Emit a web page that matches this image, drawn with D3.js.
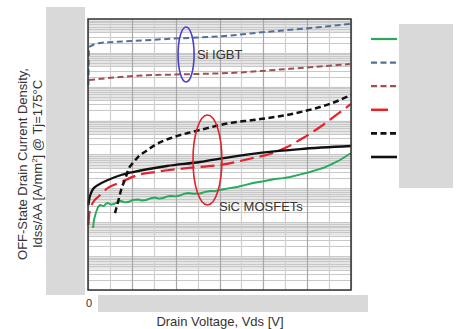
<!DOCTYPE html>
<html>
<head>
<meta charset="utf-8">
<title>Idss vs Vds</title>
<script src="https://cdn.jsdelivr.net/npm/d3@7"></script>
<style>
  body { margin: 0; background: #fff; }
  text { font-family: "Liberation Sans", Arial, sans-serif; fill: #333; }
</style>
</head>
<body>
<svg id="chart" width="457" height="329"></svg>
<script>
// values: drain voltage [V] and off-state current density [A/mm2]
var igbtBlueV = [2, 5, 55, 205, 360, 648, 808, 967, 1195];
var igbtBlueJ = [0.0113, 0.149, 0.196, 0.224, 0.257, 0.326, 0.413, 0.507, 0.712];

var igbtMaroonV = [5, 146, 205, 402, 648, 922, 1195];
var igbtMaroonJ = [0.0158, 0.0194, 0.0208, 0.0230, 0.0255, 0.0340, 0.0470];

var sicGreenV = [23, 27, 37, 46, 55, 64, 73, 82, 91, 105, 119, 135, 151, 167, 183, 205, 228, 246, 265, 285, 306, 324, 342, 360, 379, 400, 420, 438, 456, 480, 511, 535, 557, 580, 602, 640, 680, 715, 753, 800, 853, 890, 922, 970, 1013, 1040, 1072, 1110, 1150, 1200];
var sicGreenJ = [6.76e-7, 1.16e-6, 2.01e-6, 2.82e-6, 3.23e-6, 3.10e-6, 3.02e-6, 3.55e-6, 3.70e-6, 3.30e-6, 3.46e-6, 4.05e-6, 4.24e-6, 3.85e-6, 3.96e-6, 4.55e-6, 4.70e-6, 4.40e-6, 4.54e-6, 5.10e-6, 5.38e-6, 5.00e-6, 5.20e-6, 5.75e-6, 5.96e-6, 5.80e-6, 6.17e-6, 6.90e-6, 7.30e-6, 6.95e-6, 7.06e-6, 7.90e-6, 8.37e-6, 8.30e-6, 8.95e-6, 1.00e-5, 1.10e-5, 1.25e-5, 1.44e-5, 1.62e-5, 1.89e-5, 2.00e-5, 2.17e-5, 2.60e-5, 3.04e-5, 3.45e-5, 3.99e-5, 5.10e-5, 6.89e-5, 1.11e-4];

var sicRedV = [2, 5, 14, 27, 46, 91, 151, 228, 306, 456, 602, 753, 830, 908, 981, 1059, 1127, 1200];
var sicRedJ = [8.30e-7, 1.64e-6, 2.82e-6, 4.24e-6, 5.56e-6, 1.03e-5, 1.54e-5, 2.48e-5, 3.04e-5, 3.99e-5, 4.90e-5, 7.88e-5, 1.04e-4, 1.66e-4, 3.07e-4, 6.48e-4, 1.37e-3, 3.10e-3];

var sicBlackDashV = [123, 137, 151, 173, 183, 205, 228, 265, 306, 379, 456, 511, 648, 753, 908, 990, 1059, 1127, 1200];
var sicBlackDashJ = [1.87e-6, 3.96e-6, 8.95e-6, 2.17e-5, 3.48e-5, 5.61e-5, 8.43e-5, 1.27e-4, 1.91e-4, 3.07e-4, 4.31e-4, 5.29e-4, 8.51e-4, 1.04e-3, 1.47e-3, 1.92e-3, 2.52e-3, 3.55e-3, 5.71e-3];

var sicBlackV = [2, 5, 14, 27, 46, 91, 151, 205, 360, 511, 648, 785, 967, 1200];
var sicBlackJ = [3.23e-6, 4.54e-6, 7.30e-6, 1.03e-5, 1.26e-5, 1.77e-5, 2.48e-5, 3.04e-5, 4.58e-5, 6.01e-5, 8.43e-5, 1.11e-4, 1.45e-4, 1.78e-4];

var xTicks = d3.range(0, 1201, 100);
var yDecades = d3.range(-8, 0);   // 1e-8 ... 1

// annotation groups: [V0, V1] x [J low, J high] for the ellipses
var annoNames = ["Si IGBT", "SiC MOSFETs"];
var annoBoxV = [[411, 484], [479, 611]];
var annoBoxJ = [[0.0138, 0.58], [3.23e-6, 1.47e-3]];
var annoTextV = [497, 598];
var annoTextJ = [0.066, 2.15e-6];

var svg = d3.select("#chart");
var width = 457, height = 329;
var margin = {left: 88, right: 106, top: 19, bottom: 39};

var x = d3.scaleLinear().domain([0, 1200]).range([margin.left, width - margin.right]);
var y = d3.scaleLog().domain([1e-8, 1]).range([height - margin.bottom, margin.top]);

svg.append("rect").attr("width", width).attr("height", height).attr("fill", "#fff");

// grid
var grid = svg.append("g");
yDecades.forEach(function(e) {
    var base = Math.pow(10, e);
    grid.append("rect")
        .attr("x", x(0)).attr("width", x(1200) - x(0))
        .attr("y", y(base * 10)).attr("height", y(base * 4) - y(base * 10))
        .attr("fill", "#e6e6e6");
});
var yLines = [];
yDecades.forEach(function(e) {
    for (var k = 1; k < 10; k++) yLines.push(k * Math.pow(10, e));
});
grid.selectAll("line.h").data(yLines).join("line")
    .attr("class", "h")
    .attr("x1", x(0)).attr("x2", x(1200))
    .attr("y1", d => Math.round(y(d)) + 0.5).attr("y2", d => Math.round(y(d)) + 0.5)
    .attr("stroke", "#c8c8c8").attr("stroke-width", 1);
grid.selectAll("line.v").data(xTicks).join("line")
    .attr("class", "v")
    .attr("x1", d => Math.round(x(d)) + 0.5).attr("x2", d => Math.round(x(d)) + 0.5)
    .attr("y1", y(1)).attr("y2", y(1e-8))
    .attr("stroke", d => d % 200 === 0 ? "#a8a8a8" : "#cfcfcf")
    .attr("stroke-width", 1.2);

// curves
var series = [
    {v: sicGreenV, j: sicGreenJ, color: "#26a95a", dash: null, w: 1.9, curve: d3.curveLinear, legLen: 26},
    {v: igbtBlueV, j: igbtBlueJ, color: "#50709c", dash: "6,3.5", w: 2, curve: d3.curveMonotoneX, legLen: 26},
    {v: igbtMaroonV, j: igbtMaroonJ, color: "#a0504f", dash: "6,3.5", w: 2, curve: d3.curveMonotoneX, legLen: 26},
    {v: sicRedV, j: sicRedJ, color: "#e8202a", dash: "14,6", w: 2.2, curve: d3.curveMonotoneX, legLen: 17},
    {v: sicBlackDashV, j: sicBlackDashJ, color: "#111", dash: "6,3.5", w: 2.5, curve: d3.curveMonotoneX, legLen: 26},
    {v: sicBlackV, j: sicBlackJ, color: "#111", dash: null, w: 2.3, curve: d3.curveMonotoneX, legLen: 26}
];

var plot = svg.append("g");
series.forEach(function(s) {
    var pts = s.v.map((v, i) => [v, s.j[i]]);
    plot.append("path")
        .attr("d", d3.line().x(d => x(d[0])).y(d => y(d[1])).curve(s.curve)(pts))
        .attr("fill", "none")
        .attr("stroke", s.color)
        .attr("stroke-width", s.w)
        .attr("stroke-linejoin", "round")
        .attr("stroke-dasharray", s.dash);
});

// annotation ellipses
var annoColors = ["#4a3fd0", "#e32028"];
annoNames.forEach(function(name, i) {
    var cx = (x(annoBoxV[i][0]) + x(annoBoxV[i][1])) / 2;
    var cy = (y(annoBoxJ[i][0]) + y(annoBoxJ[i][1])) / 2;
    svg.append("ellipse")
        .attr("cx", cx).attr("cy", cy)
        .attr("rx", (x(annoBoxV[i][1]) - x(annoBoxV[i][0])) / 2)
        .attr("ry", (y(annoBoxJ[i][0]) - y(annoBoxJ[i][1])) / 2)
        .attr("fill", "none")
        .attr("stroke", annoColors[i])
        .attr("stroke-width", 1.6);
    svg.append("text")
        .attr("x", x(annoTextV[i])).attr("y", y(annoTextJ[i]))
        .attr("font-size", 13)
        .text(name);
});

// frame
svg.append("rect")
    .attr("x", x(0)).attr("y", y(1))
    .attr("width", x(1200) - x(0)).attr("height", y(1e-8) - y(1))
    .attr("fill", "none").attr("stroke", "#333").attr("stroke-width", 1.5);

// grey boxes covering tick labels and legend names
svg.append("rect").attr("x", 46).attr("y", 7).attr("width", 39).attr("height", 288).attr("fill", "#d9d9d9");
svg.append("rect").attr("x", 98).attr("y", 295).attr("width", 270).attr("height", 17).attr("fill", "#d9d9d9");
svg.append("rect").attr("x", 399).attr("y", 24).attr("width", 54).attr("height", 164).attr("fill", "#d9d9d9");

svg.append("text")
    .attr("x", x(0) + 1).attr("y", 307)
    .attr("text-anchor", "middle")
    .attr("font-size", 11).attr("fill", "#555")
    .text("0");

// legend samples
var leg = svg.append("g").attr("transform", "translate(371,39)");
series.forEach(function(s, i) {
    leg.append("line")
        .attr("x1", 0).attr("x2", s.legLen)
        .attr("y1", i * 23.6).attr("y2", i * 23.6)
        .attr("stroke", s.color)
        .attr("stroke-width", s.w + 0.3)
        .attr("stroke-dasharray", s.dash === "14,6" ? null : s.dash);
});

// axis titles
svg.append("text")
    .attr("x", 220).attr("y", 326)
    .attr("text-anchor", "middle")
    .attr("font-size", 13)
    .text("Drain Voltage, Vds [V]");

var yt = svg.append("text")
    .attr("transform", "translate(26.5,164) rotate(-90)")
    .attr("text-anchor", "middle")
    .attr("font-size", 13);
yt.append("tspan").attr("x", 0).attr("dy", 0).text("OFF-State Drain Current Density,");
var l2 = yt.append("tspan").attr("x", 0).attr("dy", 15).text("Idss/AA [A/mm");
l2.append("tspan").attr("font-size", 8).attr("dy", -5).text("2");
yt.append("tspan").attr("dy", 5).text("] @ Tj=175°C");
</script>
</body>
</html>
